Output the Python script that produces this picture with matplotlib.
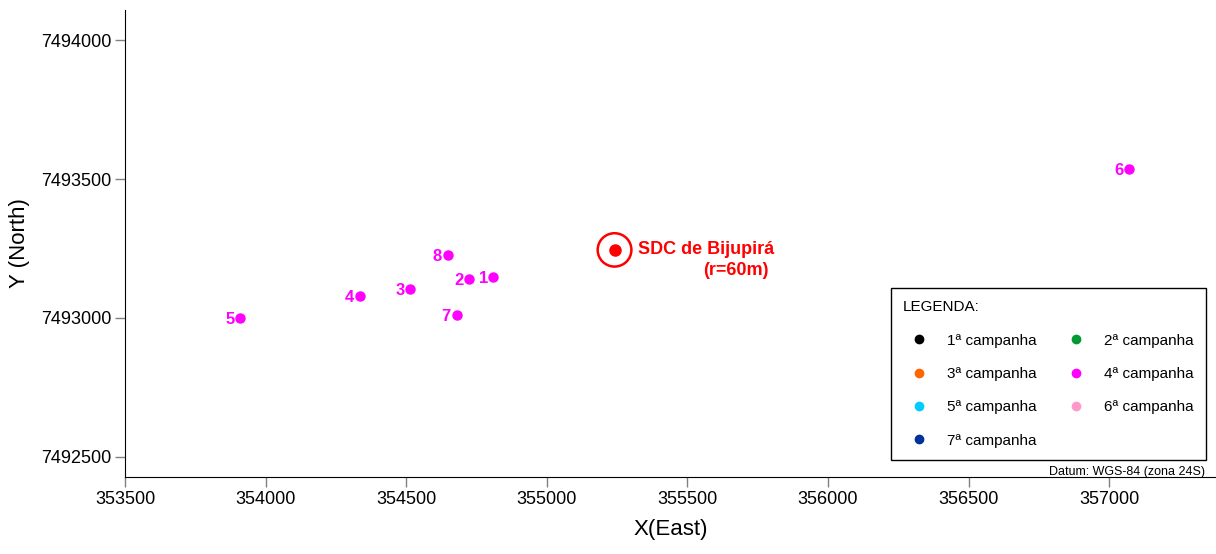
import matplotlib.pyplot as plt
from matplotlib.lines import Line2D
from matplotlib.patches import Circle

plt.rcParams["font.family"] = ["Liberation Sans", "DejaVu Sans"]

# pontos da 4a campanha (UTM)
labels = ["1", "2", "3", "4", "5", "6", "7", "8"]
x_east = [354810, 354725, 354515, 354334, 353910, 357070, 354679, 354647]
y_north = [7493147, 7493140, 7493104, 7493079, 7493000, 7493536, 7493011, 7493227]

sdc_x, sdc_y, sdc_r = 355241, 7493245, 60

campanhas = ["1ª campanha", "2ª campanha", "3ª campanha", "4ª campanha",
             "5ª campanha", "6ª campanha", "7ª campanha"]
cores = ["#000000", "#009933", "#FF6600", "#FF00FF", "#00CCFF", "#FF99CC", "#003399"]

xticks = [353500, 354000, 354500, 355000, 355500, 356000, 356500, 357000]
yticks = [7492500, 7493000, 7493500, 7494000]

fig = plt.figure(figsize=(12.16, 5.54), dpi=100)
ax = fig.add_axes([125 / 1216, 77 / 554, 1091 / 1216, 467 / 554])

ax.plot(x_east, y_north, "o", color="#FF00FF", markersize=6.5, zorder=3)
for lab, xx, yy in zip(labels, x_east, y_north):
    ax.annotate(lab, (xx, yy), xytext=(-4, -1), textcoords="offset points",
                ha="right", va="center", fontsize=12, fontweight="bold", color="#FF00FF")

# SDC de Bijupirá
ax.add_patch(Circle((sdc_x, sdc_y), sdc_r, fill=False, edgecolor="#FF0000", linewidth=1.8))
ax.plot([sdc_x], [sdc_y], "o", color="#FF0000", markersize=8)
ax.annotate("SDC de Bijupirá", (sdc_x, sdc_y), xytext=(17, 0), textcoords="offset points",
            ha="left", va="center", fontsize=13, fontweight="bold", color="#FF0000")
ax.annotate("(r=60m)", (sdc_x, sdc_y), xytext=(111, -15), textcoords="offset points",
            ha="right", va="center", fontsize=13, fontweight="bold", color="#FF0000")

ax.set_xlim(353500, 357380)
ax.set_ylim(7492428, 7494108)
ax.set_xticks(xticks)
ax.set_yticks(yticks)
ax.set_xticklabels([str(t) for t in xticks])
ax.set_yticklabels([str(t) for t in yticks])
ax.tick_params(direction="out", length=7, width=1, color="#808080", labelsize=13, pad=3)
ax.spines["top"].set_visible(False)
ax.spines["right"].set_visible(False)
ax.set_xlabel("X(East)", fontsize=16, labelpad=8)
ax.set_ylabel("Y (North)", fontsize=16, labelpad=8)

handles = [Line2D([], [], linestyle="none", marker="o", markersize=6,
                  color=c) for c in cores]
# ordem por linha com ncol=2
order = [0, 2, 4, 6, 1, 3, 5]
leg = ax.legend([handles[i] for i in order], [campanhas[i] for i in order],
                ncol=2, title="LEGENDA:", title_fontsize=11, fontsize=11,
                loc="upper right", bbox_to_anchor=(1206 / 1216, 1 - 288 / 554),
                bbox_transform=fig.transFigure, fancybox=False, framealpha=1,
                edgecolor="black", borderpad=0.8, handlelength=2.1,
                handletextpad=0.8, columnspacing=1.5, labelspacing=1.27,
                alignment="left", borderaxespad=0)
leg.get_frame().set_linewidth(1)

fig.text(1205 / 1216, 1 - 472 / 554, "Datum: WGS-84 (zona 24S)",
         ha="right", va="center", fontsize=9)

fig.savefig("out.png", dpi=100)
